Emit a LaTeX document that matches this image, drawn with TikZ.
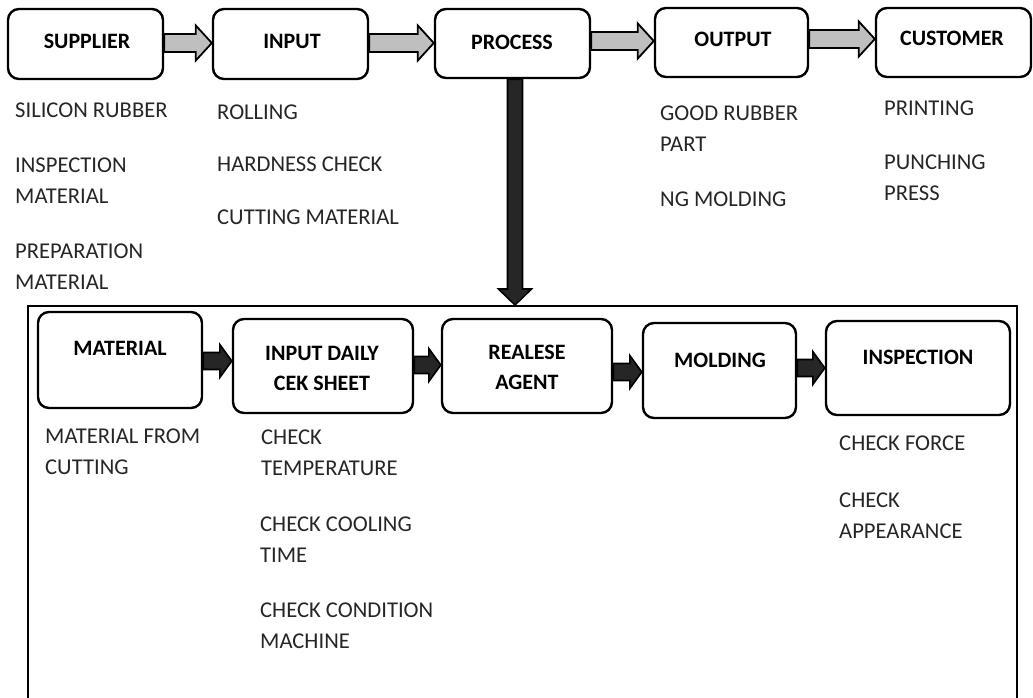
\documentclass[tikz,border=0pt]{standalone}
\usepackage{fontspec}
\setmainfont{Carlito}
\usetikzlibrary{calc,fit}
\definecolor{garrowfill}{HTML}{BFBFBF}
\definecolor{darkfill}{HTML}{262626}
\definecolor{bodytext}{HTML}{262626}
\tikzset{
  box/.style={draw=black, line width=2.4pt, rounded corners=11pt, inner sep=0pt, fill=white},
  frm/.style={draw=black, line width=2pt, inner sep=0pt},
  lbl/.style={font=\fontsize{22}{30}\selectfont\bfseries, align=center, inner sep=0pt},
  note/.style={font=\fontsize{22.6}{31}\selectfont, text=bodytext, align=left, inner sep=0pt, anchor=north west},
  garrow/.style={draw=black, line width=1.8pt, fill=garrowfill, line join=miter},
  darrow/.style={draw=black, line width=1.6pt, fill=darkfill, line join=miter},
}
% from, to, centre y, style, shaft half, head half, head length
\newcommand\blockarr[7]{%
  \draw[#4] let \p1=(#1.east), \p2=(#2.west), \p3=(0,#3) in
    (\x1,\y3+#5pt) -- (\x2-#7pt,\y3+#5pt) -- (\x2-#7pt,\y3+#6pt) -- (\x2,\y3)
    -- (\x2-#7pt,\y3-#6pt) -- (\x2-#7pt,\y3-#5pt) -- (\x1,\y3-#5pt) -- cycle;}
\begin{document}
\begin{tikzpicture}[x=1pt,y=-1pt]
\useasboundingbox (0,0) rectangle (1033,697);

% frame
\node[frm, fit={(28,306) (1017,740)}] (frame) {};

% top boxes
\node[box, fit={(8,9) (163,79)}] (supplier) {};
\node[box, fit={(213,9) (368,79)}] (input) {};
\node[box, fit={(435,9) (590,78)}] (process) {};
\node[box, fit={(655,8) (808,77)}] (output) {};
\node[box, fit={(876,8) (1031,77)}] (customer) {};

\node[lbl] (supplierl) at (87,41) {SUPPLIER};
\node[lbl] (inputl) at (292,41) {INPUT};
\node[lbl] (processl) at (512,42) {PROCESS};
\node[lbl] (outputl) at (733,39) {OUTPUT};
\node[lbl] (customerl) at (952,38) {CUSTOMER};

% top arrows
\blockarr{supplier}{input}{43}{garrow}{9}{17.5}{16}
\blockarr{input}{process}{43}{garrow}{9}{17.5}{16}
\blockarr{process}{output}{41}{garrow}{9}{17.5}{16}
\blockarr{output}{customer}{39}{garrow}{9}{17.5}{16}

% vertical arrow
\draw[darrow] let \p1=(process.south), \p2=(frame.north), \p3=(515,0) in
  (\x3-7.5pt,\y1) -- (\x3-7.5pt,\y2+16pt) -- (\x3-16.5pt,\y2+16pt) -- (\x3,\y2)
  -- (\x3+16.5pt,\y2+16pt) -- (\x3+7.5pt,\y2+16pt) -- (\x3+7.5pt,\y1) -- cycle;

% top notes
\node[note] (n1) at (15,103) {SILICON RUBBER};
\node[note] (n2) at (15,158) {INSPECTION\\MATERIAL};
\node[note] (n3) at (15,244) {PREPARATION\\MATERIAL};
\node[note] (n4) at (217,105) {ROLLING};
\node[note] (n5) at (217,157) {HARDNESS CHECK};
\node[note] (n6) at (217,210) {CUTTING MATERIAL};
\node[note] (n7) at (660,106) {GOOD RUBBER\\PART};
\node[note] (n8) at (660,192) {NG MOLDING};
\node[note] (n9) at (884,101) {PRINTING};
\node[note] (n10) at (884,155) {PUNCHING\\PRESS};

% bottom boxes
\node[box, fit={(38,312) (202,408)}] (material) {};
\node[box, fit={(233,319) (413,413)}] (daily) {};
\node[box, fit={(442,319) (612,413)}] (agent) {};
\node[box, fit={(643,323) (796,418)}] (molding) {};
\node[box, fit={(826,321) (1010,415)}] (inspection) {};

\node[lbl] (materiall) at (120,348) {MATERIAL};
\node[lbl] (dailyl) at (322,368) {INPUT DAILY\\CEK SHEET};
\node[lbl] (agentl) at (527,367) {REALESE\\AGENT};
\node[lbl] (moldingl) at (720,360) {MOLDING};
\node[lbl] (inspectionl) at (918,357) {INSPECTION};

% bottom arrows
\blockarr{material}{daily}{361}{darrow}{8.5}{16.5}{12}
\blockarr{daily}{agent}{365}{darrow}{8.5}{16.5}{12}
\blockarr{agent}{molding}{372}{darrow}{8.5}{16.5}{12}
\blockarr{molding}{inspection}{368}{darrow}{8.5}{16.5}{12}

% bottom notes
\node[note] (m1) at (45,429) {MATERIAL FROM\\CUTTING};
\node[note] (m2) at (261,430) {CHECK\\TEMPERATURE};
\node[note] (m3) at (260,517) {CHECK COOLING\\TIME};
\node[note] (m4) at (260,603) {CHECK CONDITION\\MACHINE};
\node[note] (m5) at (839,436) {CHECK FORCE};
\node[note] (m6) at (839,493) {CHECK\\APPEARANCE};
\end{tikzpicture}
\end{document}
